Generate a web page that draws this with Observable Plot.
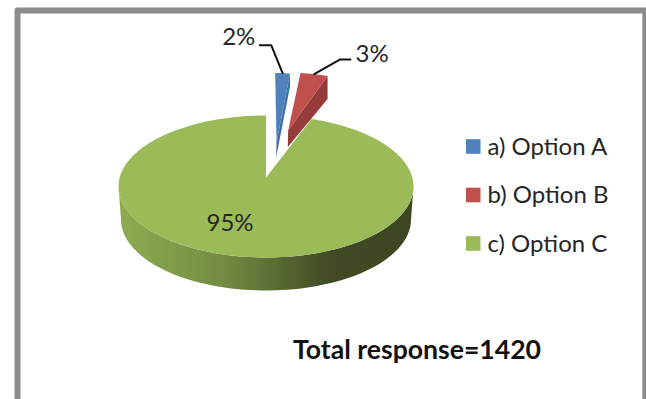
<!DOCTYPE html>
<html>
<head>
<meta charset="utf-8">
<script src="https://cdn.jsdelivr.net/npm/d3@7"></script>
<script src="https://cdn.jsdelivr.net/npm/@observablehq/plot@0.6"></script>
<style>
  html, body { margin: 0; padding: 0; background: #fff; overflow: hidden; }
  svg { display: block; }
</style>
</head>
<body>
<div id="chart"></div>
<script>
// Survey responses, in percent of all answers
const categories = ["a) Option A", "b) Option B", "c) Option C"];
const percents = [2, 3, 95];
const faceColors = ["#4f81bd", "#c0504d", "#9bbb59"];
const sideColors = ["#3f6da6", "#953c3a", null];
const totalResponses = 1420;

const FONT = "Lato, 'Open Sans', sans-serif";
const INK = "#262626";

// Angles of the slices, clockwise from twelve o'clock
const slices = d3.pie().sort(null)(percents);

// Oblique projection of each wedge: where its tip sits, the centre of its rim,
// and how far its side wall drops at the rim and at the tip.
const RY = 71;
const wedges = [
  {tip: [276, 142], rim: [274.7, 143.5], rx: 118, rimDrop: 13, tipDrop: 15},
  {tip: [287.7, 130], rim: [281.5, 143], rx: 147.5, rimDrop: 23, tipDrop: 16.5},
  {tip: [265.5, 177], rim: [265.5, 186], rx: 147.5}
];

const onRim = (w, a, rx = w.rx, drop = 0) => ({
  x: w.rim[0] + rx * Math.sin(a),
  y: w.rim[1] - RY * Math.cos(a) + drop
});

const sweep = (from, to, n) => d3.range(n + 1).map((i) => from + (to - from) * i / n);

// Top faces
const faces = slices.flatMap((s, i) => {
  const w = wedges[i];
  const steps = Math.ceil((s.endAngle - s.startAngle) * 40);
  return [{x: w.tip[0], y: w.tip[1]}, ...sweep(s.startAngle, s.endAngle, steps).map((a) => onRim(w, a))]
    .map((p) => ({...p, category: categories[i]}));
});

// Side walls of the two pulled-out wedges
const walls = [0, 1].flatMap((i) => {
  const w = wedges[i];
  const end = onRim(w, slices[i].endAngle);
  return [
    end,
    {x: end.x, y: end.y + w.rimDrop},
    {x: w.tip[0] - 0.4, y: w.tip[1] + w.tipDrop},
    {x: w.tip[0], y: w.tip[1]}
  ].map((p) => ({...p, fill: sideColors[i], category: categories[i]}));
});

// Front wall of the large slice: front half of the rim and the same half lower down
const big = wedges[2];
const frontWall = [
  ...sweep(Math.PI / 2, 3 * Math.PI / 2, 90).map((a) => onRim(big, a)),
  ...sweep(3 * Math.PI / 2, Math.PI / 2, 90).map((a) => onRim(big, a, 145, 33))
];

// Leader lines run from the middle of a rim to an elbow, then out to the label
const rimMid = (i) => onRim(wedges[i], (slices[i].startAngle + slices[i].endAngle) / 2);
const leaderBends = [[[-11.4, -28], [-22.8, -28]], [[25.6, -14.7], [36.3, -14.7]]];
const labelNudges = [[-4.5, -7.5], [5, -5.5]];
const leaders = [0, 1].flatMap((i) => {
  const m = rimMid(i);
  return [m, ...leaderBends[i].map(([dx, dy]) => ({x: m.x + dx, y: m.y + dy}))]
    .map((p) => ({...p, category: categories[i]}));
});
const leaderLabels = [0, 1].map((i) => {
  const m = rimMid(i);
  const [dx, dy] = leaderBends[i][1];
  const [nx, ny] = labelNudges[i];
  return {x: m.x + dx + nx, y: m.y + dy + ny, label: `${percents[i]}%`, anchor: i === 0 ? "end" : "start"};
});

// Legend rows
const legendRows = categories.map((category, i) => ({category, y: 146.5 + i * 48.5}));
const legendX = [466, 480.5];

// Gradient for the shaded front wall
const wallGradient = () => {
  const defs = d3.create("svg:defs");
  const g = defs.append("linearGradient").attr("id", "wallShade");
  [[0, "#8eac51"], [0.35, "#748c43"], [0.72, "#404a24"], [1, "#3c4621"]].forEach(([o, c]) =>
    g.append("stop").attr("offset", o).attr("stop-color", c));
  return defs.node();
};

const chart = Plot.plot({
  width: 646,
  height: 399,
  margin: 0,
  style: {background: "#fff"},
  x: {domain: [0, 646], range: [0, 646], axis: null},
  y: {domain: [0, 399], range: [0, 399], axis: null},
  color: {domain: categories, range: faceColors},
  marks: [
    wallGradient,
    // Outer frame, open at the bottom
    Plot.line([{x: 17, y: 399}, {x: 17, y: 10}, {x: 644.8, y: 10}, {x: 644.8, y: 399}], {
      x: "x", y: "y", stroke: "#8c8c8c", strokeWidth: 6, strokeLinejoin: "round"
    }),
    // Pie: the small wedges sit behind the large slice
    Plot.line(walls, {x: "x", y: "y", z: "category", fill: "fill", stroke: "none"}),
    Plot.line(faces.filter((d) => d.category !== categories[2]), {
      x: "x", y: "y", fill: "category", stroke: "none"
    }),
    Plot.line(frontWall, {x: "x", y: "y", fill: "url(#wallShade)", stroke: "none"}),
    Plot.line(faces.filter((d) => d.category === categories[2]), {
      x: "x", y: "y", fill: "category", stroke: "none"
    }),
    // Leader lines and percentage labels
    Plot.line(leaders, {x: "x", y: "y", z: "category", stroke: "#111", strokeWidth: 2, strokeLinejoin: "miter"}),
    Plot.text(leaderLabels.filter((d) => d.anchor === "end"), {
      x: "x", y: "y", text: "label", textAnchor: "end",
      fontFamily: FONT, fontSize: 24, fill: INK
    }),
    Plot.text(leaderLabels.filter((d) => d.anchor === "start"), {
      x: "x", y: "y", text: "label", textAnchor: "start",
      fontFamily: FONT, fontSize: 24, fill: INK
    }),
    Plot.text([`${percents[2]}%`], {
      x: () => 229.5, y: () => 223, text: (d) => d,
      fontFamily: FONT, fontSize: 24, fill: INK
    }),
    // Legend
    Plot.rect(legendRows, {
      x1: () => legendX[0], x2: () => legendX[1],
      y1: (d) => d.y - 7.3, y2: (d) => d.y + 7.3,
      fill: "category"
    }),
    Plot.text(legendRows, {
      x: () => 487, y: "y", text: "category", textAnchor: "start",
      fontFamily: FONT, fontSize: 24, fill: INK
    }),
    // Total
    Plot.text([`Total response=${totalResponses}`], {
      x: () => 292.5, y: () => 349.5, text: (d) => d, textAnchor: "start",
      fontFamily: FONT, fontSize: 26.6, fontWeight: 700, fill: "#111"
    })
  ]
});

document.getElementById("chart").append(chart);
</script>
</body>
</html>
